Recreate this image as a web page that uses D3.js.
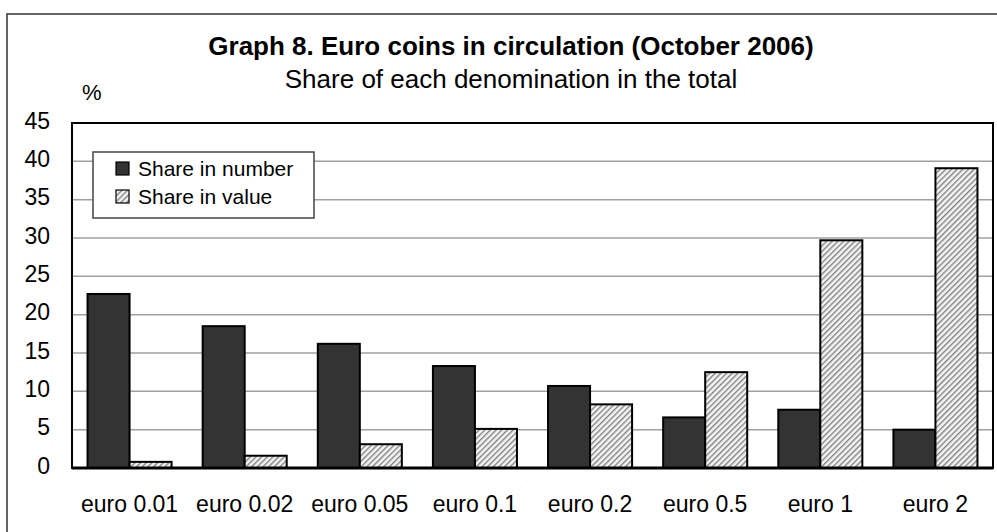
<!DOCTYPE html>
<html>
<head>
<meta charset="utf-8">
<script src="https://cdn.jsdelivr.net/npm/d3@7"></script>
<style>
  body { margin: 0; background: #fff; }
  text { font-family: "Liberation Sans", Arial, sans-serif; fill: #000; }
</style>
</head>
<body>
<div id="chart"></div>
<script>
var categories = ["euro 0.01", "euro 0.02", "euro 0.05", "euro 0.1", "euro 0.2", "euro 0.5", "euro 1", "euro 2"];
var seriesNames = ["Share in number", "Share in value"];
var shareNumber = [22.7, 18.5, 16.2, 13.3, 10.7, 6.6, 7.6, 5.0];
var shareValue = [0.8, 1.6, 3.1, 5.1, 8.3, 12.5, 29.7, 39.1];
var yTicks = [0, 5, 10, 15, 20, 25, 30, 35, 40, 45];

var w = 997, h = 532;
// plot area edges (note: "top" is taken by window.top)
var plotL = 72, plotR = 993, plotT = 123, plotB = 468;

var svg = d3.select("#chart").append("svg")
    .attr("width", w)
    .attr("height", h);

// hatch for "share in value"
var defs = svg.append("defs");
defs.append("pattern")
    .attr("id", "hatch")
    .attr("patternUnits", "userSpaceOnUse")
    .attr("width", 4)
    .attr("height", 4)
    .attr("patternTransform", "rotate(45)")
    .call(function (p) {
        p.append("rect").attr("width", 4).attr("height", 4).attr("fill", "#f4f4f4");
        p.append("line").attr("x1", 0.7).attr("y1", 0).attr("x2", 0.7).attr("y2", 4)
            .attr("stroke", "#7a7a7a").attr("stroke-width", 1.3);
    });

// outer frame
svg.append("rect")
    .attr("x", 7).attr("y", 14)
    .attr("width", 1000).attr("height", 600)
    .attr("fill", "none")
    .attr("stroke", "#333")
    .attr("stroke-width", 1.5);

var x0 = d3.scaleBand()
    .domain(categories)
    .range([plotL, plotR])
    .paddingInner(0.27)
    .paddingOuter(0.135);
var x1 = d3.scaleBand()
    .domain(seriesNames)
    .range([0, x0.bandwidth()]);
var y = d3.scaleLinear()
    .domain([0, 45])
    .range([plotB, plotT]);

// gridlines
svg.append("g").selectAll("line")
    .data(yTicks.slice(1, -1))
    .enter().append("line")
    .attr("x1", plotL).attr("x2", plotR)
    .attr("y1", function (d) { return y(d); })
    .attr("y2", function (d) { return y(d); })
    .attr("stroke", "#a0a0a0")
    .attr("stroke-width", 1.5);

// y axis labels
var yaxis = d3.axisLeft(y).tickValues(yTicks).tickSize(0).tickPadding(22);
var gY = svg.append("g")
    .attr("transform", "translate(" + plotL + ",0)")
    .call(yaxis);
gY.select(".domain").remove();
gY.selectAll("text")
    .attr("font-size", 23)
    .attr("dy", "0.22em")
    .style("font-family", "'Liberation Sans', Arial, sans-serif");

// bars
var rows = categories.map(function (c, i) {
    return { cat: c, vals: [shareNumber[i], shareValue[i]] };
});
var groups = svg.append("g").selectAll("g")
    .data(rows)
    .enter().append("g")
    .attr("transform", function (d) { return "translate(" + x0(d.cat) + ",0)"; });
groups.selectAll("rect")
    .data(function (d) { return d.vals.map(function (v, j) { return { s: seriesNames[j], v: v }; }); })
    .enter().append("rect")
    .attr("x", function (d) { return x1(d.s); })
    .attr("width", x1.bandwidth())
    .attr("y", function (d) { return y(d.v); })
    .attr("height", function (d) { return plotB - y(d.v); })
    .attr("fill", function (d) { return d.s == seriesNames[0] ? "#333" : "url(#hatch)"; })
    .attr("stroke", "#000")
    .attr("stroke-width", 2);

// plot frame
svg.append("rect")
    .attr("x", plotL).attr("y", plotT)
    .attr("width", plotR - plotL).attr("height", plotB - plotT)
    .attr("fill", "none")
    .attr("stroke", "#000")
    .attr("stroke-width", 2);
svg.append("line")
    .attr("x1", plotL).attr("x2", plotR)
    .attr("y1", plotB).attr("y2", plotB)
    .attr("stroke", "#000")
    .attr("stroke-width", 3);

// x axis labels
var xaxis = d3.axisBottom(x0).tickSize(0).tickPadding(0);
var gX = svg.append("g")
    .attr("transform", "translate(0," + plotB + ")")
    .call(xaxis);
gX.select(".domain").remove();
gX.selectAll("text")
    .attr("font-size", 23)
    .attr("y", 44)
    .attr("dy", 0)
    .style("font-family", "'Liberation Sans', Arial, sans-serif");

// titles
svg.append("text")
    .attr("x", 511).attr("y", 55)
    .attr("text-anchor", "middle")
    .attr("font-size", 26)
    .attr("font-weight", "bold")
    .text("Graph 8. Euro coins in circulation (October 2006)");
svg.append("text")
    .attr("x", 511).attr("y", 88)
    .attr("text-anchor", "middle")
    .attr("font-size", 26)
    .text("Share of each denomination in the total");
svg.append("text")
    .attr("x", 82).attr("y", 100)
    .attr("font-size", 22)
    .text("%");

// legend
var legend = svg.append("g");
legend.append("rect")
    .attr("x", 93).attr("y", 152)
    .attr("width", 221).attr("height", 66)
    .attr("fill", "#fff")
    .attr("stroke", "#444")
    .attr("stroke-width", 1.5);
seriesNames.forEach(function (name, i) {
    legend.append("rect")
        .attr("x", 116).attr("y", 162 + i * 28)
        .attr("width", 13).attr("height", 13)
        .attr("fill", i == 0 ? "#333" : "url(#hatch)")
        .attr("stroke", "#000")
        .attr("stroke-width", 1.2);
    legend.append("text")
        .attr("x", 138).attr("y", 176 + i * 28)
        .attr("font-size", 21)
        .text(name);
});
</script>
</body>
</html>
